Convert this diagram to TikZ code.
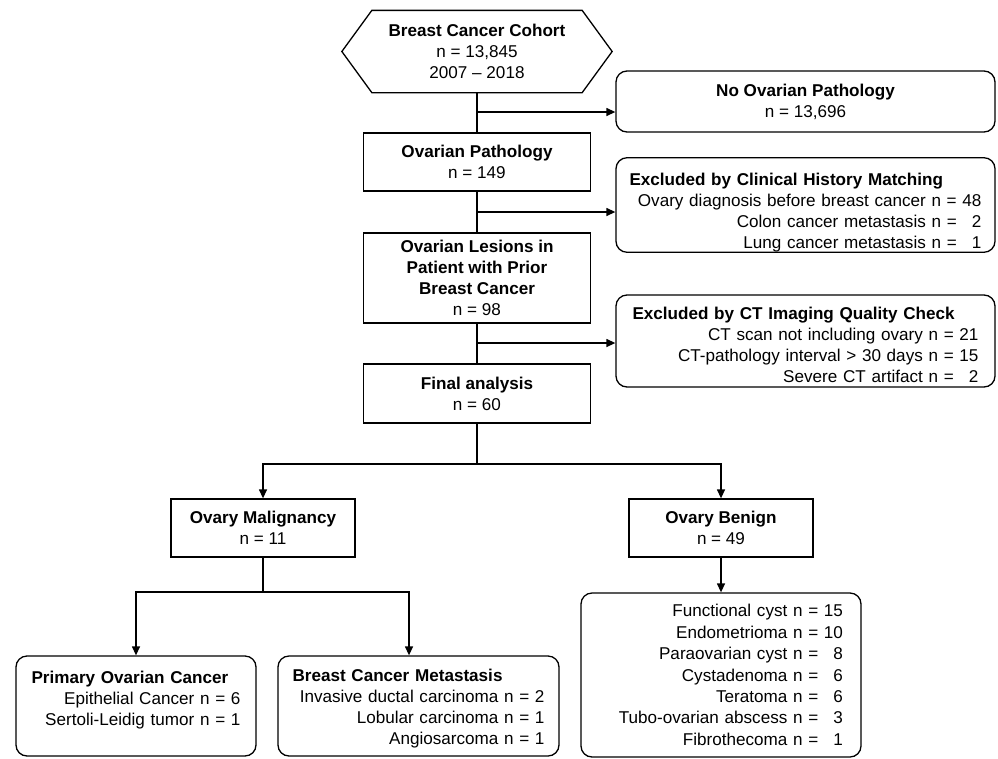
\documentclass[tikz,border=0pt]{standalone}
\usepackage{fontspec}
\setmainfont{Liberation Sans}
\usetikzlibrary{arrows.meta,calc}
\begin{document}
\begin{tikzpicture}[x=1pt,y=-1pt,
  line width=1.3pt,
  every node/.style={font=\fontsize{17.1}{21}\selectfont, inner sep=0pt},
  sqbox/.style={draw, rectangle, align=center},
  rbox/.style={draw, rectangle, rounded corners=11pt},
  listbox/.style={rbox, align=right},
  arr/.style={-{Triangle[length=9pt,width=8pt]}},
]
\useasboundingbox (0,0) rectangle (998,758);

% start hexagon
\node[minimum width=269pt, minimum height=81pt, align=center] (cohort) at (477,51.5)
  {\textbf{Breast Cancer Cohort}\\n = 13,845\\2007 -- 2018};
\draw (cohort.west) -- ([xshift=30pt]cohort.north west) -- ([xshift=-30pt]cohort.north east)
  -- (cohort.east) -- ([xshift=-30pt]cohort.south east) -- ([xshift=30pt]cohort.south west) -- cycle;

% main column
\node[sqbox, minimum width=227pt, minimum height=58pt] (ovpath) at (477,162)
  {\textbf{Ovarian Pathology}\\n = 149};
\node[sqbox, minimum width=227pt, minimum height=90pt] (lesion) at (477,278)
  {\textbf{Ovarian Lesions in}\\\textbf{Patient with Prior}\\\textbf{Breast Cancer}\\n = 98};
\node[sqbox, minimum width=227pt, minimum height=59pt] (final) at (477,393.5)
  {\textbf{Final analysis}\\n = 60};

% exclusions
\node[rbox, align=center, minimum width=379pt, minimum height=61pt] (noovar) at (805.5,101.5)
  {\textbf{No Ovarian Pathology}\\n = 13,696};
\node[listbox, minimum width=379pt, minimum height=90pt, text width=352pt] (clin) at (805.5,205)
  {\hbox to \hsize{\rule{0pt}{28pt}\textbf{Excluded by Clinical History Matching}\hfil}\\
   \mbox{Ovary diagnosis before breast cancer n = 48}\\
   \mbox{Colon cancer metastasis n = \phantom{0}2}\\
   \mbox{Lung cancer metastasis n = \phantom{0}1}};
\node[listbox, minimum width=379pt, minimum height=92pt, text width=346pt] (ct) at (805.5,341)
  {\hbox to \hsize{\rule{0pt}{20pt}\textbf{Excluded by CT Imaging Quality Check}\hfil}\\
   \mbox{CT scan not including ovary n = 21}\\
   \mbox{CT-pathology interval > 30 days n = 15}\\
   \mbox{Severe CT artifact n = \phantom{0}2}};

% second level
\node[sqbox, minimum width=184pt, minimum height=58pt] (malig) at (263,528)
  {\textbf{Ovary Malignancy}\\n = 11};
\node[sqbox, minimum width=184pt, minimum height=58pt] (benign) at (721,528)
  {\textbf{Ovary Benign}\\n = 49};

% leaves
\node[listbox, minimum width=240pt, minimum height=100pt, text width=209pt] (primary) at (136,706)
  {\hbox to \hsize{\rule{0pt}{18pt}\textbf{Primary Ovarian Cancer}\hfil}\\
   \mbox{Epithelial Cancer n = 6}\\
   \mbox{Sertoli-Leidig tumor n = 1}\\
   \mbox{}};
\node[listbox, minimum width=281pt, minimum height=100pt, text width=252pt] (metas) at (418.5,706)
  {\hbox to \hsize{\rule{0pt}{18pt}\textbf{Breast Cancer Metastasis}\hfil}\\
   \mbox{Invasive ductal carcinoma n = 2}\\
   \mbox{Lobular carcinoma n = 1}\\
   \mbox{Angiosarcoma n = 1}};
\node[listbox, minimum width=280pt, minimum height=164pt, text width=244pt,
      font=\fontsize{17.1}{21.4}\selectfont] (benlist) at (721,675)
  {\mbox{Functional cyst n = 15}\\
   \mbox{Endometrioma n = 10}\\
   \mbox{Paraovarian cyst n = \phantom{0}8}\\
   \mbox{Cystadenoma n = \phantom{0}6}\\
   \mbox{Teratoma n = \phantom{0}6}\\
   \mbox{Tubo-ovarian abscess n = \phantom{0}3}\\
   \mbox{Fibrothecoma n = \phantom{0}1}};

% connectors
\coordinate (j1) at (477,112);
\coordinate (j2) at (477,212);
\coordinate (j3) at (477,343);
\coordinate (s1) at (477,464);
\coordinate (s2) at (263,592);

\draw (cohort.south) -- (ovpath.north);
\draw (ovpath.south) -- (lesion.north);
\draw (lesion.south) -- (final.north);
\draw[arr] (j1) -- (j1 -| noovar.west);
\draw[arr] (j2) -- (j2 -| clin.west);
\draw[arr] (j3) -- (j3 -| ct.west);

\draw (final.south) -- (s1);
\draw[arr] (s1) -| (malig.north);
\draw[arr] (s1) -| (benign.north);

\draw (malig.south) -- (s2);
\draw[arr] (s2) -| (primary.north);
\draw[arr] (s2) -| ([xshift=-9.5pt]metas.north);

\draw[arr] (benign.south) -- (benlist.north);
\end{tikzpicture}
\end{document}
